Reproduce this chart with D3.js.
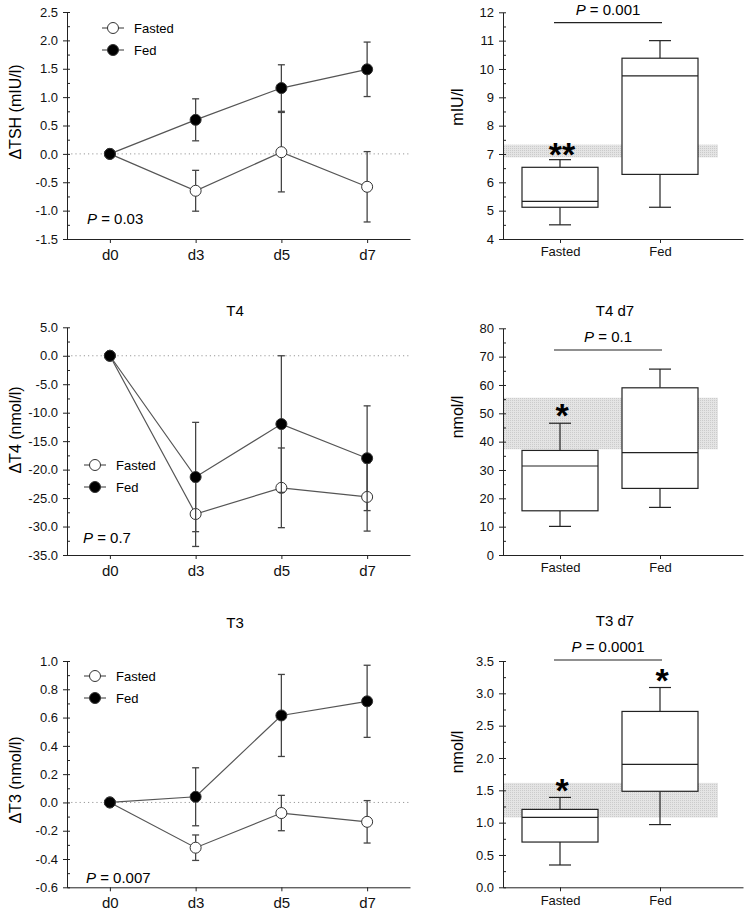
<!DOCTYPE html>
<html>
<head>
<meta charset="utf-8">
<script src="https://d3js.org/d3.v7.min.js"></script>
<style>
  body { margin: 0; background: #fff; }
  svg { font-family: "Liberation Sans", Arial, sans-serif; }
</style>
</head>
<body>
<svg id="vis"></svg>
<script>
    // time points and groups
    var days = ["d0", "d3", "d5", "d7"];
    var groups = ["Fasted", "Fed"];

    // change from d0 (mean and error)
    var tshFasted = [0, -0.65, 0.03, -0.58];
    var tshFastedErr = [0, 0.36, 0.70, 0.62];
    var tshFed = [0, 0.60, 1.16, 1.49];
    var tshFedErr = [0, 0.37, 0.41, 0.48];

    var t4Fasted = [0, -27.8, -23.2, -24.8];
    var t4FastedErr = [0, 5.7, 7.0, 6.0];
    var t4Fed = [0, -21.3, -12.0, -18.0];
    var t4FedErr = [0, 9.6, 12.0, 9.2];

    var t3Fasted = [0, -0.32, -0.075, -0.137];
    var t3FastedErr = [0, 0.09, 0.125, 0.15];
    var t3Fed = [0, 0.04, 0.615, 0.715];
    var t3FedErr = [0, 0.205, 0.29, 0.255];

    // d7 box plots: [min, q1, median, q3, max]
    var tshFastedBox = [4.5, 5.12, 5.33, 6.53, 6.8];
    var tshFedBox = [5.12, 6.28, 9.76, 10.38, 11.0];
    var t4FastedBox = [10.1, 15.6, 31.4, 36.9, 46.5];
    var t4FedBox = [16.8, 23.5, 36.1, 59.0, 65.6];
    var t3FastedBox = [0.345, 0.70, 1.08, 1.205, 1.39];
    var t3FedBox = [0.97, 1.485, 1.90, 2.72, 3.09];

    // reference ranges (grey bands)
    var tshRange = [6.88, 7.33];
    var t4Range = [37.3, 55.5];
    var t3Range = [1.08, 1.615];

    var W = 750, H = 917;
    var svg = d3.select("#vis")
        .attr("width", W)
        .attr("height", H);

    svg.append("rect").attr("width", W).attr("height", H).attr("fill", "#fff");

    // stipple for the reference band
    var pat = svg.append("defs").append("pattern")
        .attr("id", "stipple")
        .attr("width", 2).attr("height", 2)
        .attr("patternUnits", "userSpaceOnUse");
    pat.append("rect").attr("width", 2).attr("height", 2).attr("fill", "#e4e4e4");
    pat.append("rect").attr("width", 1).attr("height", 1).attr("fill", "#cbcbcb");

    function fmt1(d) { return Math.abs(d) < 1e-9 ? "0.0" : d.toFixed(1); }

    function yAxes(g, y, x0, major, minor, fmt) {
        var dom = y.domain();
        var a = g.append("g").attr("transform", "translate(" + x0 + ",0)");
        a.append("g")
            .call(d3.axisLeft(y)
                .tickValues(d3.range(dom[0], dom[1] + 1e-9, minor))
                .tickSize(-3).tickSizeOuter(0).tickFormat(""))
            .call(function(s) { s.select(".domain").remove(); });
        var ax = a.append("g")
            .call(d3.axisLeft(y)
                .tickValues(d3.range(dom[0], dom[1] + 1e-9, major))
                .tickSize(4).tickSizeOuter(0).tickPadding(5)
                .tickFormat(fmt));
        ax.selectAll("text").style("font-size", "13px").attr("fill", "#111");
        a.selectAll("line, path").attr("stroke", "#222");
    }

    function pText(g, x, y, val, anchor) {
        var t = g.append("text")
            .attr("x", x).attr("y", y)
            .attr("dy", "0.35em")
            .attr("text-anchor", anchor)
            .style("font-size", "15px");
        t.append("tspan").style("font-style", "italic").text("P");
        t.append("tspan").text(" = " + val);
    }

    //The line chart panels
    function linePanel(o) {
        var g = svg.append("g");
        var x = d3.scalePoint().domain(days).range([67, 410]).padding(0.5);
        var y = d3.scaleLinear().domain(o.domain).range([o.bottom, o.top]);

        // dotted zero line
        g.append("line")
            .attr("x1", 67).attr("x2", 410)
            .attr("y1", y(0)).attr("y2", y(0))
            .attr("stroke", "#999")
            .attr("stroke-dasharray", "1.2,3");

        yAxes(g, y, 67, o.major, o.minor, fmt1);

        var xa = g.append("g")
            .attr("transform", "translate(0," + o.bottom + ")")
            .call(d3.axisBottom(x).tickSize(4).tickSizeOuter(0).tickPadding(6));
        xa.selectAll("text").style("font-size", "15px").attr("fill", "#111");
        xa.selectAll("line, path").attr("stroke", "#222");

        var series = [
            {mean: o.fasted, err: o.fastedErr, fill: "#fff"},
            {mean: o.fed, err: o.fedErr, fill: "#000"}
        ];

        series.forEach(function(s) {
            var pts = days.map(function(d, i) { return {day: d, m: s.mean[i], e: s.err[i]}; });

            g.append("path")
                .datum(pts)
                .attr("fill", "none")
                .attr("stroke", "#555")
                .attr("stroke-width", 1.2)
                .attr("d", d3.line()
                    .x(function(d) { return x(d.day); })
                    .y(function(d) { return y(d.m); }));

            var eb = g.append("g").attr("stroke", "#444").attr("stroke-width", 1.3);
            pts.filter(function(d) { return d.e > 0; }).forEach(function(d) {
                var cx = x(d.day);
                eb.append("line").attr("x1", cx).attr("x2", cx)
                    .attr("y1", y(d.m + d.e)).attr("y2", y(d.m - d.e));
                eb.append("line").attr("x1", cx - 3.5).attr("x2", cx + 3.5)
                    .attr("y1", y(d.m + d.e)).attr("y2", y(d.m + d.e));
                eb.append("line").attr("x1", cx - 3.5).attr("x2", cx + 3.5)
                    .attr("y1", y(d.m - d.e)).attr("y2", y(d.m - d.e));
            });

            g.selectAll(null)
                .data(pts)
                .enter()
                .append("circle")
                .attr("cx", function(d) { return x(d.day); })
                .attr("cy", function(d) { return y(d.m); })
                .attr("r", 5.5)
                .attr("fill", s.fill)
                .attr("stroke", "#333")
                .attr("stroke-width", 1);
        });

        // legend
        groups.forEach(function(name, i) {
            var ly = o.legendY + i * 22;
            g.append("line")
                .attr("x1", o.legendX - 11).attr("x2", o.legendX + 11)
                .attr("y1", ly).attr("y2", ly)
                .attr("stroke", "#555").attr("stroke-width", 1.2);
            g.append("circle")
                .attr("cx", o.legendX).attr("cy", ly).attr("r", 5.5)
                .attr("fill", i == 0 ? "#fff" : "#000")
                .attr("stroke", "#333");
            g.append("text")
                .attr("x", o.legendX + 21).attr("y", ly)
                .attr("dy", "0.35em")
                .style("font-size", "13px")
                .text(name);
        });

        pText(g, o.pX, o.pY, o.p, "start");

        if (o.title) {
            g.append("text")
                .attr("x", 235).attr("y", o.titleY)
                .attr("dy", "0.35em")
                .attr("text-anchor", "middle")
                .style("font-size", "15px")
                .text(o.title);
        }

        g.append("text")
            .attr("transform", "translate(15," + o.labelY + ") rotate(-90)")
            .attr("dy", "0.35em")
            .attr("text-anchor", "middle")
            .style("font-size", "16px")
            .text(o.label);
    }

    //The box plot panels
    function boxPanel(o) {
        var g = svg.append("g");
        var x = d3.scaleLinear().domain([-0.57, 1.83]).range([503, 743]);
        var y = d3.scaleLinear().domain(o.domain).range([o.bottom, o.top]);

        // reference band
        g.append("rect")
            .attr("x", 503).attr("width", 718 - 503)
            .attr("y", y(o.range[1]))
            .attr("height", y(o.range[0]) - y(o.range[1]))
            .attr("fill", "url(#stipple)");

        yAxes(g, y, 503, o.major, o.minor, o.fmt);

        var xa = g.append("g")
            .attr("transform", "translate(0," + o.bottom + ")")
            .call(d3.axisBottom(x).tickValues([0, 1]).tickSize(4).tickSizeOuter(0).tickPadding(4)
                .tickFormat(function(i) { return groups[i]; }));
        xa.selectAll("text").style("font-size", "13px").attr("fill", "#111");
        xa.selectAll("line, path").attr("stroke", "#222");

        [o.fasted, o.fed].forEach(function(b, i) {
            var cx = x(i);
            var bg = g.append("g").attr("stroke", "#222").attr("stroke-width", 1.2);
            bg.append("line").attr("x1", cx).attr("x2", cx).attr("y1", y(b[4])).attr("y2", y(b[3]));
            bg.append("line").attr("x1", cx).attr("x2", cx).attr("y1", y(b[1])).attr("y2", y(b[0]));
            bg.append("line").attr("x1", cx - 11).attr("x2", cx + 11).attr("y1", y(b[4])).attr("y2", y(b[4]));
            bg.append("line").attr("x1", cx - 11).attr("x2", cx + 11).attr("y1", y(b[0])).attr("y2", y(b[0]));
            bg.append("rect")
                .attr("x", cx - 38).attr("width", 76)
                .attr("y", y(b[3])).attr("height", y(b[1]) - y(b[3]))
                .attr("fill", "#fff");
            bg.append("line").attr("x1", cx - 38).attr("x2", cx + 38).attr("y1", y(b[2])).attr("y2", y(b[2]));
        });

        // significance stars
        o.stars.forEach(function(s) {
            g.append("text")
                .attr("x", x(s.i) + 2)
                .attr("y", y(o.starAt[s.i]) + 20)
                .attr("text-anchor", "middle")
                .style("font-size", "34px")
                .style("font-weight", "bold")
                .text(s.txt);
        });

        // comparison bar
        g.append("line")
            .attr("x1", 554).attr("x2", 662)
            .attr("y1", o.barY).attr("y2", o.barY)
            .attr("stroke", "#222").attr("stroke-width", 1.2);
        pText(g, 608, o.pY, o.p, "middle");

        if (o.title) {
            g.append("text")
                .attr("x", 615).attr("y", o.titleY)
                .attr("dy", "0.35em")
                .attr("text-anchor", "middle")
                .style("font-size", "15px")
                .text(o.title);
        }

        g.append("text")
            .attr("transform", "translate(457," + o.labelY + ") rotate(-90)")
            .attr("dy", "0.35em")
            .attr("text-anchor", "middle")
            .style("font-size", "16px")
            .text(o.label);
    }

    // TSH row
    linePanel({top: 12, bottom: 239, domain: [-1.5, 2.5], major: 0.5, minor: 0.25,
        fasted: tshFasted, fastedErr: tshFastedErr, fed: tshFed, fedErr: tshFedErr,
        legendX: 113, legendY: 28, p: "0.03", pX: 87, pY: 219,
        label: "\u0394TSH (mIU/l)", labelY: 112});
    boxPanel({top: 12.3, bottom: 239, domain: [4, 12], major: 1, minor: 0.5,
        fmt: d3.format("d"), fasted: tshFastedBox, fed: tshFedBox, range: tshRange,
        stars: [{i: 0, txt: "**"}], starAt: [7.28, 0],
        barY: 22.7, p: "0.001", pY: 10, label: "mIU/l", labelY: 107});

    // T4 row
    linePanel({top: 327.3, bottom: 555, domain: [-35, 5], major: 5, minor: 2.5,
        fasted: t4Fasted, fastedErr: t4FastedErr, fed: t4Fed, fedErr: t4FedErr,
        legendX: 95, legendY: 465, p: "0.7", pX: 83, pY: 538,
        title: "T4", titleY: 311, label: "\u0394T4 (nmol/l)", labelY: 430});
    boxPanel({top: 328.3, bottom: 555, domain: [0, 80], major: 10, minor: 5,
        fmt: d3.format("d"), fasted: t4FastedBox, fed: t4FedBox, range: t4Range,
        stars: [{i: 0, txt: "*"}], starAt: [52.2, 0],
        barY: 350, p: "0.1", pY: 337, title: "T4 d7", titleY: 311,
        label: "nmol/l", labelY: 417});

    // T3 row
    linePanel({top: 661, bottom: 887.3, domain: [-0.6, 1.0], major: 0.2, minor: 0.1,
        fasted: t3Fasted, fastedErr: t3FastedErr, fed: t3Fed, fedErr: t3FedErr,
        legendX: 95, legendY: 676, p: "0.007", pX: 86, pY: 878,
        title: "T3", titleY: 623, label: "\u0394T3 (nmol/l)", labelY: 780});
    boxPanel({top: 661, bottom: 887.3, domain: [0, 3.5], major: 0.5, minor: 0.25,
        fmt: fmt1, fasted: t3FastedBox, fed: t3FedBox, range: t3Range,
        stars: [{i: 0, txt: "*"}, {i: 1, txt: "*"}], starAt: [1.63, 3.33],
        barY: 660, p: "0.0001", pY: 647, title: "T3 d7", titleY: 621,
        label: "nmol/l", labelY: 752});
</script>
</body>
</html>
